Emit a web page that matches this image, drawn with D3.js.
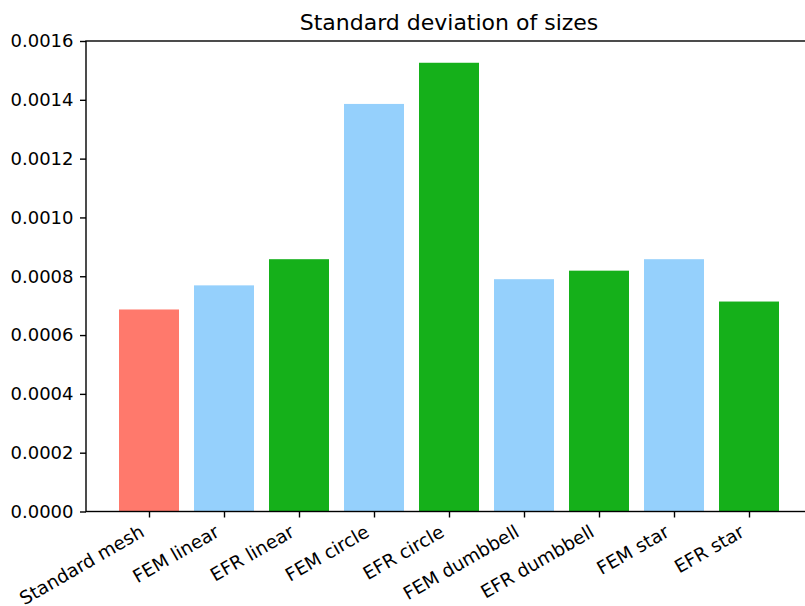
<!DOCTYPE html>
<html>
<head>
<meta charset="utf-8">
<script src="https://cdn.jsdelivr.net/npm/d3@7"></script>
<style>
  html, body { margin: 0; padding: 0; background: #fff; }
  svg { display: block; font-family: "DejaVu Sans", sans-serif; }
</style>
</head>
<body>
<svg id="chart" width="805" height="606"></svg>
<script>
// Bar categories, values and colours
const categories = ["Standard mesh", "FEM linear", "EFR linear", "FEM circle", "EFR circle",
                    "FEM dumbbell", "EFR dumbbell", "FEM star", "EFR star"];
const values = [0.000687, 0.000769, 0.000858, 0.001386, 0.001526,
                0.000790, 0.000819, 0.000858, 0.000714];
const colors = ["#ff796c", "#95d0fc", "#15b01a", "#95d0fc", "#15b01a",
                "#95d0fc", "#15b01a", "#95d0fc", "#15b01a"];
const yTicks = [0, 0.0002, 0.0004, 0.0006, 0.0008, 0.0010, 0.0012, 0.0014, 0.0016];
const title = "Standard deviation of sizes";

const svg = d3.select("#chart");
const plotLeft = 86, plotRight = 812, plotTop = 41, plotBottom = 511.5;
const barWidth = 0.8;
const tickFont = 18, xLabelFont = 18.4, titleFont = 22;

const x = d3.scaleLinear().domain([-0.84, categories.length - 1 + 0.84]).range([plotLeft, plotRight]);
const y = d3.scaleLinear().domain([0, 0.0016]).range([plotBottom, plotTop]);

// Bars
svg.append("g").selectAll("rect")
  .data(values)
  .join("rect")
  .attr("x", (d, i) => x(i - barWidth / 2))
  .attr("width", (d, i) => x(i + barWidth / 2) - x(i - barWidth / 2))
  .attr("y", d => y(d))
  .attr("height", d => y(0) - y(d))
  .attr("fill", (d, i) => colors[i]);

// Frame
svg.append("rect")
  .attr("x", plotLeft).attr("y", plotTop)
  .attr("width", plotRight - plotLeft).attr("height", plotBottom - plotTop)
  .attr("fill", "none").attr("stroke", "#000").attr("stroke-width", 1.4);

// Y axis
const yAxis = d3.axisLeft(y).tickValues(yTicks).tickFormat(d3.format(".4f"))
  .tickSize(6).tickPadding(6.5);
const gy = svg.append("g").attr("transform", `translate(${plotLeft},0)`).call(yAxis);
gy.select(".domain").remove();
gy.selectAll(".tick line").attr("stroke", "#000").attr("stroke-width", 1.4);
gy.selectAll(".tick text").attr("fill", "#000").attr("font-size", tickFont)
  .attr("font-family", "DejaVu Sans, sans-serif");

// X axis with rotated category labels
const xAxis = d3.axisBottom(x).tickValues(d3.range(categories.length))
  .tickFormat(i => categories[i]).tickSize(6);
const gx = svg.append("g").attr("transform", `translate(0,${plotBottom})`).call(xAxis);
gx.select(".domain").remove();
gx.selectAll(".tick line").attr("stroke", "#000").attr("stroke-width", 1.4);
gx.selectAll(".tick text")
  .attr("fill", "#000").attr("font-size", xLabelFont)
  .attr("font-family", "DejaVu Sans, sans-serif")
  .attr("text-anchor", "end")
  .attr("dy", null)
  .attr("y", 0)
  .attr("transform", "translate(-4,24) rotate(-30)");

// Title
svg.append("text")
  .attr("x", (plotLeft + plotRight) / 2).attr("y", 30)
  .attr("text-anchor", "middle")
  .attr("font-size", titleFont)
  .attr("fill", "#000")
  .text(title);
</script>
</body>
</html>
